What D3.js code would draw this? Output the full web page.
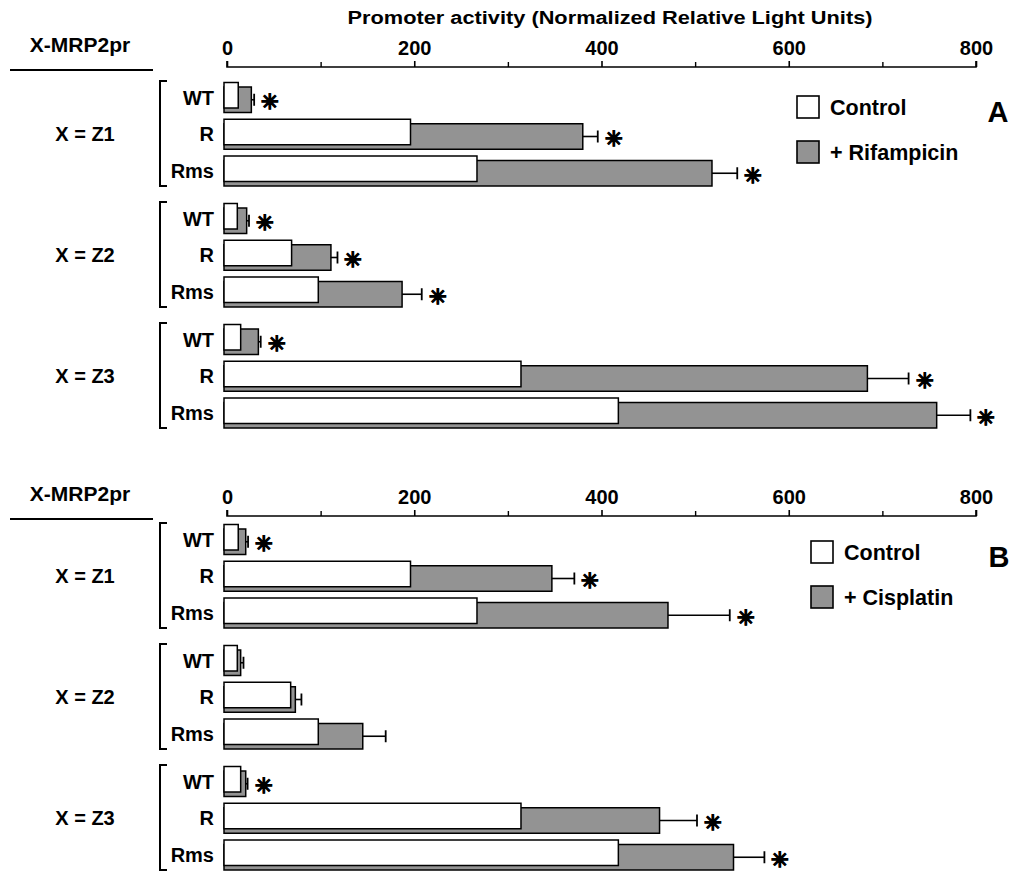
<!DOCTYPE html>
<html>
<head>
<meta charset="utf-8">
<script src="https://cdn.jsdelivr.net/npm/d3@7/dist/d3.min.js"></script>
<style>
  html, body { margin: 0; padding: 0; background: #fff; }
  svg { display: block; }
  text { font-family: "Liberation Sans", Arial, sans-serif; font-weight: bold; fill: #000; }
</style>
</head>
<body>
<svg id="chart" width="1013" height="875"></svg>
<script>
// ---------------- DATA ----------------
const groups = ["Z1", "Z2", "Z3"];
const rows = ["WT", "R", "Rms"];
const xTicks = [0, 200, 400, 600, 800];
const xMinorTicks = [100, 300, 500, 700];

const axisTitle = "Promoter activity (Normalized Relative Light Units)";
const constructLabel = "X-MRP2pr";

// Panel A: Rifampicin
const controlA = [[12, 196, 267], [11, 69, 97.5], [14.6, 314, 418]];
const rifampicin = [[26, 380, 518], [21, 111, 187], [33.5, 684, 758]];
const rifampicinErr = [[3, 16, 27], [2.5, 7, 21], [2.5, 44, 36]];
const rifampicinSig = [[1, 1, 1], [1, 1, 1], [1, 1, 1]];

// Panel B: Cisplatin
const controlB = [[12, 196, 267], [11, 68, 97.5], [14.6, 314, 418]];
const cisplatin = [[20, 347, 471], [14.6, 73, 145], [20, 462, 541]];
const cisplatinErr = [[2.5, 24, 66], [3, 6.5, 24.5], [2, 40, 33]];
const cisplatinSig = [[1, 1, 1], [0, 0, 0], [1, 1, 1]];

const panels = [
  { letter: "A", treatment: "+ Rifampicin", control: controlA, treated: rifampicin, err: rifampicinErr, sig: rifampicinSig,
    axisY: 67, groupTop: 81, legendX: 797, legendY: 96, letterX: 998, letterY: 112 },
  { letter: "B", treatment: "+ Cisplatin", control: controlB, treated: cisplatin, err: cisplatinErr, sig: cisplatinSig,
    axisY: 516, groupTop: 523, legendX: 811, legendY: 541, letterX: 999, letterY: 557 }
];

// ---------------- LAYOUT ----------------
const svg = d3.select("#chart");
const x = d3.scaleLinear().domain([0, 800]).range([227, 976]);
const barX0 = 224;
const barH = 25.5;
const shadowOff = 4.5;
const grayFill = "#939393";

const groupStep = 121, groupH = 105;

const rowScale = d3.scaleBand().domain(rows).range([1.5, 1.5 + 35 * 3]).paddingInner(5 / 35).paddingOuter(0);

// Title
svg.append("text")
  .attr("x", 610).attr("y", 24)
  .attr("text-anchor", "middle")
  .attr("font-size", 18)
  .attr("textLength", 525).attr("lengthAdjust", "spacingAndGlyphs")
  .text(axisTitle);

panels.forEach(p => {
  const g = svg.append("g");

  // Axis on top
  const axis = d3.axisTop(x).tickValues(xTicks).tickSize(6).tickPadding(6).tickFormat(d3.format("d"));
  const ag = g.append("g").attr("transform", `translate(0,${p.axisY})`).call(axis);
  ag.select(".domain").attr("stroke", "#000").attr("stroke-width", 1.6).attr("d", `M${x(0)},-6V0H${x(800)}V-6`);
  ag.selectAll(".tick line").attr("stroke", "#000").attr("stroke-width", 1.6);
  ag.selectAll(".tick text").attr("font-size", 20).attr("font-family", "Liberation Sans, Arial, sans-serif")
    .attr("font-weight", "bold").attr("fill", "#000");
  const minor = d3.axisTop(x).tickValues(xMinorTicks).tickSize(5).tickFormat("");
  const mg = g.append("g").attr("transform", `translate(0,${p.axisY})`).call(minor);
  mg.select(".domain").remove();
  mg.selectAll(".tick line").attr("stroke", "#000").attr("stroke-width", 1.4);

  // Construct label and underline
  g.append("text").attr("x", 80).attr("y", p.axisY - 15).attr("text-anchor", "middle")
    .attr("font-size", 21).text(constructLabel);
  g.append("line").attr("x1", 10).attr("x2", 153).attr("y1", p.axisY + 3).attr("y2", p.axisY + 3)
    .attr("stroke", "#000").attr("stroke-width", 2);

  const groupScale = d3.scaleBand().domain(groups)
    .range([p.groupTop, p.groupTop + groupStep * 3 - (groupStep - groupH)])
    .paddingInner((groupStep - groupH) / groupStep).paddingOuter(0);

  groups.forEach((gr, gi) => {
    const gy = groupScale(gr);
    const gh = groupScale.bandwidth();
    // bracket
    g.append("path")
      .attr("d", `M167,${gy}H160V${gy + gh}H167`)
      .attr("fill", "none").attr("stroke", "#000").attr("stroke-width", 2);
    // group label
    g.append("text").attr("x", 85).attr("y", gy + gh / 2).attr("dy", "0.35em")
      .attr("text-anchor", "middle").attr("font-size", 20).text("X = " + gr);

    rows.forEach((r, ri) => {
      const ry = gy + rowScale(r);
      const tv = p.treated[gi][ri];
      const cv = p.control[gi][ri];
      const ev = p.err[gi][ri];
      // row label
      g.append("text").attr("x", 214).attr("y", ry + 15).attr("dy", "0.36em")
        .attr("text-anchor", "end").attr("font-size", 20).text(r);
      // treated (gray) bar, offset down
      g.append("rect")
        .attr("x", barX0).attr("y", ry + shadowOff)
        .attr("width", x(tv) - barX0).attr("height", barH)
        .attr("fill", grayFill).attr("stroke", "#000").attr("stroke-width", 1.5);
      // error bar
      const cy = ry + shadowOff + barH / 2;
      g.append("line").attr("x1", x(tv)).attr("x2", x(tv + ev)).attr("y1", cy).attr("y2", cy)
        .attr("stroke", "#000").attr("stroke-width", 1.6);
      g.append("line").attr("x1", x(tv + ev)).attr("x2", x(tv + ev)).attr("y1", cy - 6).attr("y2", cy + 6)
        .attr("stroke", "#000").attr("stroke-width", 1.8);
      // control (white) bar
      g.append("rect")
        .attr("x", barX0).attr("y", ry)
        .attr("width", x(cv) - barX0).attr("height", barH)
        .attr("fill", "#fff").attr("stroke", "#000").attr("stroke-width", 1.5);
      // significance
      if (p.sig[gi][ri]) {
        g.append("text").attr("x", x(tv + ev) + 16).attr("y", cy + 2).attr("dy", "0.35em")
          .attr("text-anchor", "middle").attr("font-size", 21)
          .attr("font-family", "DejaVu Sans").attr("font-weight", "bold")
          .attr("stroke", "#000").attr("stroke-width", 0.8)
          .text("\u2733");
      }
    });
  });

  // Legend
  const lg = g.append("g").attr("transform", `translate(${p.legendX},${p.legendY})`);
  [["Control", "#fff"], [p.treatment, grayFill]].forEach((d, i) => {
    lg.append("rect").attr("x", 0).attr("y", i * 45).attr("width", 22).attr("height", 22)
      .attr("fill", d[1]).attr("stroke", "#000").attr("stroke-width", 1.6);
    lg.append("text").attr("x", 33).attr("y", i * 45 + 11).attr("dy", "0.36em")
      .attr("font-size", 21.5).text(d[0]);
  });

  // Panel letter
  g.append("text").attr("x", p.letterX).attr("y", p.letterY).attr("dy", "0.36em")
    .attr("text-anchor", "middle").attr("font-size", 29).text(p.letter);
});
</script>
</body>
</html>
